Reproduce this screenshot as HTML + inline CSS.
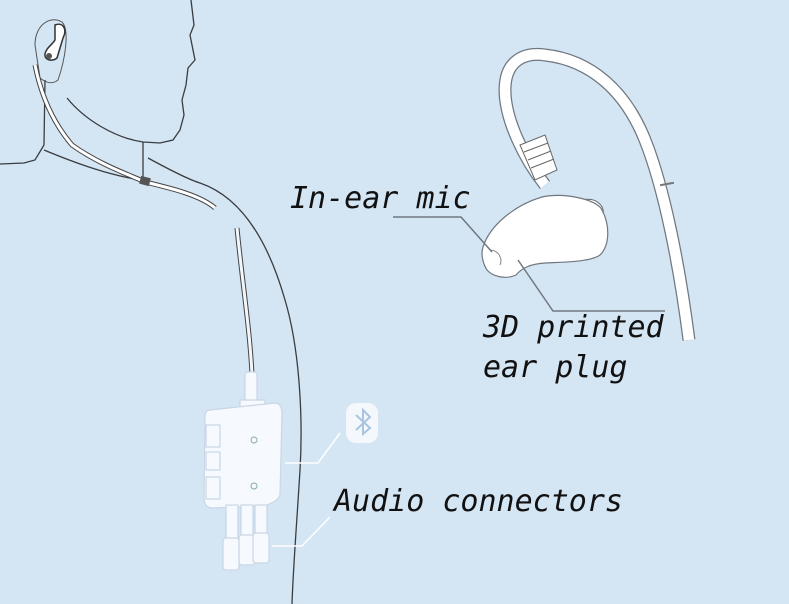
<!DOCTYPE html>
<html><head><meta charset="utf-8"><style>
html,body{margin:0;padding:0;background:#d4e5f4;}
svg{display:block}
text{font-family:"DejaVu Sans Mono","Liberation Mono",monospace;font-style:oblique;font-size:30px;fill:#111;}
</style></head><body>
<svg width="789" height="604" viewBox="0 0 789 604" xmlns="http://www.w3.org/2000/svg">
<rect width="789" height="604" fill="#d4e5f4"/>
<g fill="none" stroke="#3a3d40" stroke-width="1.3">
<path d="M191,0 L194,25 L190,35 L195,60 L188,68 L186,85 L182,100 L184,115 L180,130 L173,140 L160,143 L143,142 C115,138 85,120 67,98"/>
<path d="M143,142 L143,178"/>
<path d="M45,80 L44,145"/>
<path d="M44,145 L35,160 L24,163 L0,164"/>
<path d="M44,150 C80,165 110,175 140,180"/>
<path d="M148,158 C170,170 190,180 200,183 C235,195 265,230 285,300 C300,350 303,420 300,470 C297,520 293,570 292,604"/>
</g>
<g>
<path d="M35,45 C35,25 50,15 62,22 C70,30 65,60 58,80 C52,85 45,82 40,78 Z" fill="none" stroke="#555" stroke-width="1"/>
<path d="M55,25 C62,22 68,28 63,38 L57,58 C52,62 44,60 45,54 C46,48 52,45 55,40 Z" fill="#fff" stroke="#333" stroke-width="1.5"/>
<circle cx="49" cy="56" r="3" fill="#555"/>
</g>
<path d="M35,65 C42,100 55,125 72,145 C100,165 130,175 145,182 C170,188 200,195 215,208" fill="none" stroke="#444" stroke-width="5"/>
<path d="M35,65 C42,100 55,125 72,145 C100,165 130,175 145,182 C170,188 200,195 215,208" fill="none" stroke="#fff" stroke-width="3"/>
<rect x="140" y="177" width="10" height="8" fill="#555" transform="rotate(15 145 181)"/>
<path d="M237,228 C242,280 250,330 252,375" fill="none" stroke="#444" stroke-width="5"/>
<path d="M237,228 C242,280 250,330 252,375" fill="none" stroke="#f2f6fa" stroke-width="3"/>
<g fill="#f6f9fd" stroke="#c9d6e6" stroke-width="1.2">
<rect x="245" y="372" width="12" height="35" rx="3"/>
<rect x="240" y="400" width="25" height="10"/>
<path d="M210,410 L275,403 C280,403 282,408 282,414 L280,495 C279,500 270,505 262,506 L212,508 C206,508 204,503 204,498 L205,416 C205,412 207,410 210,410 Z"/>
<rect x="206" y="425" width="14" height="22"/>
<rect x="206" y="452" width="14" height="18"/>
<rect x="206" y="477" width="14" height="22"/>
<rect x="226" y="505" width="12" height="35"/>
<rect x="241" y="505" width="12" height="35"/>
<rect x="255" y="505" width="12" height="35"/>
<rect x="223" y="538" width="16" height="32" rx="3"/>
<rect x="239" y="535" width="16" height="30" rx="3"/>
<rect x="253" y="533" width="16" height="30" rx="3"/>
</g>
<circle cx="254" cy="440" r="3" fill="none" stroke="#8aa"/>
<circle cx="254" cy="486" r="3" fill="none" stroke="#8aa"/>
<rect x="346" y="403" width="32" height="40" rx="10" fill="#f4f8fc"/>
<path d="M356,415 L370,428 L363,434 L363,410 L370,417 L356,430" fill="none" stroke="#a9c3e0" stroke-width="2"/>
<path d="M285,463 L318,463 L340,433" fill="none" stroke="#fff" stroke-width="1.5"/>
<path d="M272,546 L302,546 L330,517" fill="none" stroke="#fff" stroke-width="1.5"/>
<path d="M545,185 C525,160 505,120 505,90 C505,60 525,52 545,55 C590,60 625,90 645,140 C665,190 680,270 689,340" fill="none" stroke="#6f7780" stroke-width="13"/>
<path d="M545,185 C525,160 505,120 505,90 C505,60 525,52 545,55 C590,60 625,90 645,140 C665,190 680,270 689,340" fill="none" stroke="#fff" stroke-width="10.5"/>
<path d="M520,145 L545,135 L557,170 L535,180 Z" fill="#fff" stroke="#666" stroke-width="1"/>
<path d="M524,152 L548,143 M528,160 L551,151 M531,168 L554,159" stroke="#666" stroke-width="1"/>
<rect x="660" y="183" width="14" height="2" fill="#777" transform="rotate(-10 667 184)"/>
<path d="M583,200 C595,197 605,205 603,215 L595,215 Z" fill="#fff" stroke="#666" stroke-width="1"/>
<path d="M483,247 C490,225 515,205 542,197 C565,192 598,200 602,210 C610,225 610,245 600,255 C590,262 565,262 545,263 C530,264 522,268 516,275 C505,280 492,276 487,270 C482,262 481,253 483,247 Z" fill="#fff" stroke="#6f7780" stroke-width="1.2"/>
<path d="M490,250 C498,250 503,258 500,265" fill="none" stroke="#888" stroke-width="1"/>
<path d="M393,217 L461,217 L492,252" fill="none" stroke="#707880" stroke-width="1.5"/>
<path d="M518,260 L553,311 L665,311" fill="none" stroke="#707880" stroke-width="1.5"/>
<text x="290" y="208">In-ear mic</text>
<text x="483" y="337">3D printed</text>
<text x="483" y="377">ear plug</text>
<text x="334" y="511">Audio connectors</text>
</svg>
</body></html>
